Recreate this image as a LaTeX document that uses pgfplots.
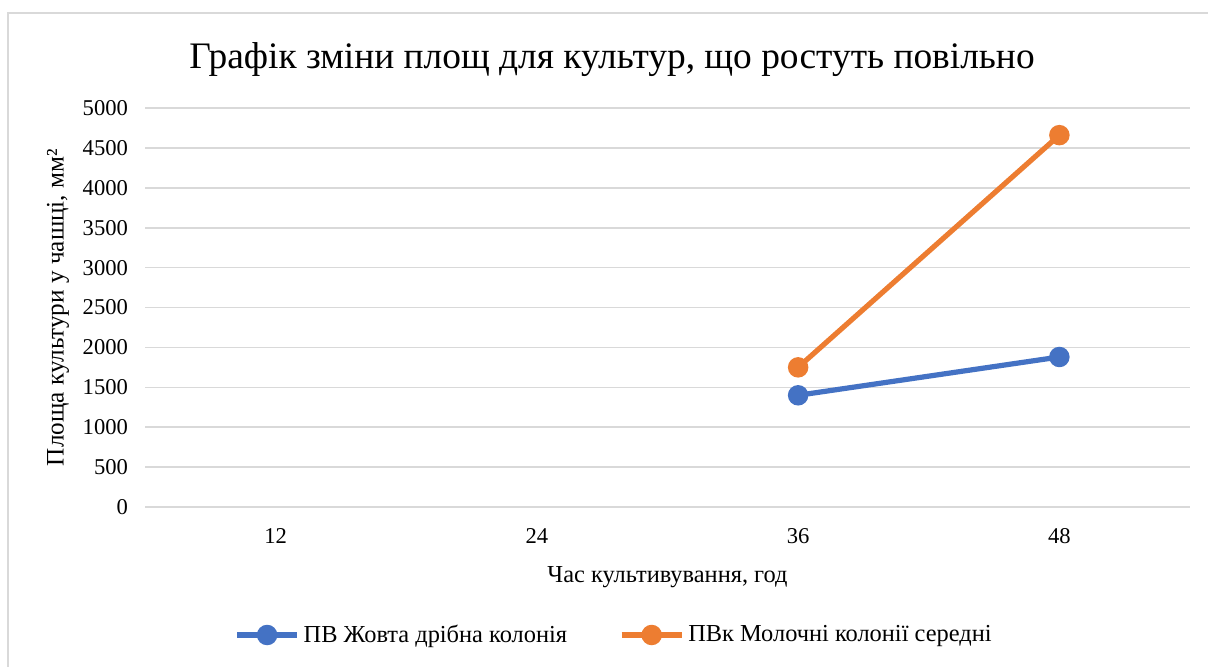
\documentclass[border=0pt]{standalone}
\usepackage{fontspec}
\setmainfont{Liberation Serif}
\usepackage{pgfplots}
\pgfplotsset{compat=1.18}
\definecolor{sblue}{HTML}{4472C4}
\definecolor{sorange}{HTML}{ED7D31}
\definecolor{gridg}{HTML}{D9D9D9}
\begin{document}
\begin{tikzpicture}
\path[use as bounding box] (0,0) rectangle (604pt,333pt);
\clip (0,0) rectangle (604pt,333pt);
\fill[white] (0,0) rectangle (604pt,333pt);
\draw[gridg, line width=1pt] (4pt,-5pt) rectangle (615pt,326.5pt);
\node[font=\fontsize{18.7}{22}\selectfont] at (306pt,303pt) {Графік зміни площ для культур, що ростуть повільно};
\begin{axis}[
  at={(72.5pt,79.5pt)}, anchor=south west,
  scale only axis, width=522.5pt, height=199.5pt,
  xmin=-0.5, xmax=3.5, ymin=0, ymax=5000,
  xtick={0,1,2,3}, xticklabels={12,24,36,48},
  ytick={0,500,...,5000},
  ymajorgrids, grid style={gridg, line width=0.8pt},
  axis line style={draw=none},
  axis x line*=bottom, axis y line*=left,
  tick style={draw=none},
  /pgf/number format/assume math mode=true,
  /pgf/number format/1000 sep={},
  ticklabel style={font=\fontsize{11.3}{13}\selectfont},
  yticklabel style={xshift=-5pt},
  xticklabel style={yshift=-7pt},
  xlabel={Час культивування, год},
  ylabel={Площа культури у чашці, мм²},
  xlabel style={font=\fontsize{12.2}{14}\selectfont, at={(axis description cs:0.5,0)}, anchor=center, yshift=-35pt},
  ylabel style={font=\fontsize{12.6}{14}\selectfont, at={(axis description cs:0,0.5)}, anchor=center, yshift=43.5pt},
  legend style={at={(axis description cs:0.4498,-0.3208)}, anchor=center, draw=none, legend columns=2,
    font=\rmfamily\fontsize{12.2}{14}\selectfont, /tikz/every even column/.append style={column sep=24pt}},
  legend cell align=left,
  legend image code/.code={\draw[#1, mark=none] (0pt,0pt) -- (30pt,0pt); \fill[#1] (15pt,0pt) circle (3.8pt);},
  clip=false,
]
\draw[gridg, line width=0.8pt] (axis cs:-0.5,0) -- (axis cs:3.5,0);
\addplot[sblue, line width=2.6pt, mark=*, mark size=3.8pt] coordinates {(2,1400) (3,1880)};
\addlegendentry{ПВ Жовта дрібна колонія}
\addplot[sorange, line width=2.6pt, mark=*, mark size=3.8pt] coordinates {(2,1750) (3,4660)};
\addlegendentry{ПВк Молочні колонії середні}
\end{axis}
\end{tikzpicture}
\end{document}
